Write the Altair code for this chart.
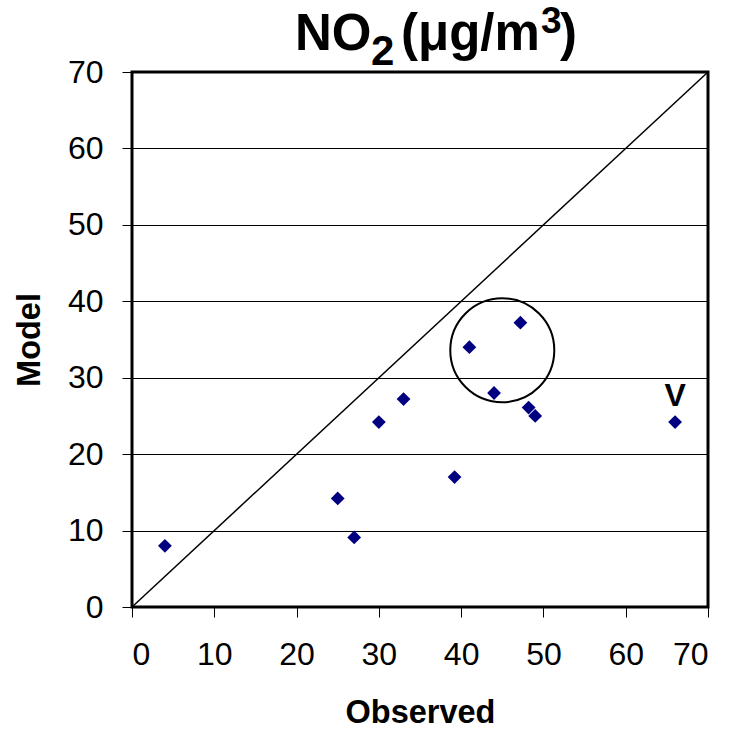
import altair as alt
import pandas as pd

observed = [4, 25, 27, 30, 33, 39.2, 41, 44, 47.2, 48.2, 49, 66]
model = [8, 14.2, 9.1, 24.2, 27.2, 17, 34, 28, 37.2, 26.1, 25, 24.2]
tick_values = [0, 10, 20, 30, 40, 50, 60, 70]
diag_start = [0, 0]
diag_end = [70, 70]
circle_center = [45, 33.6]
label_text = ["V"]
label_point = [66, 24.2]

# title pieces: text, font size, x offset, y offset (pixels relative to plot origin)
title_parts = ["NO", "2", "(μg/m", "3", ")"]
title_sizes = [51, 42, 51, 37, 51]
title_x = [163, 239, 269, 409, 428]
title_y = [-22, -7, -22, -39, -22]

df = pd.DataFrame({"Observed": observed, "Model": model})
diag_df = pd.DataFrame({"x": [diag_start[0]], "y": [diag_start[1]],
                        "x2": [diag_end[0]], "y2": [diag_end[1]]})
circ_df = pd.DataFrame({"x": [circle_center[0]], "y": [circle_center[1]]})
lab_df = pd.DataFrame({"x": [label_point[0]], "y": [label_point[1]], "t": label_text})

FONT = "Liberation Sans"
xscale = alt.Scale(domain=[0, 70], nice=False)
yscale = alt.Scale(domain=[0, 70], nice=False)

xaxis = alt.Axis(values=tick_values, title="Observed", grid=False,
                 labelPadding=22, titlePadding=26)
yaxis = alt.Axis(values=tick_values, title="Model", grid=True,
                 labelPadding=19, titlePadding=21)

points = alt.Chart(df).mark_point(shape="diamond", filled=True, color="#000080",
                                  size=190, opacity=1).encode(
    x=alt.X("Observed:Q", scale=xscale, axis=xaxis),
    y=alt.Y("Model:Q", scale=yscale, axis=yaxis),
)

diag = alt.Chart(diag_df).mark_rule(color="black", strokeWidth=1.5).encode(
    x=alt.X("x:Q", scale=xscale), y=alt.Y("y:Q", scale=yscale),
    x2="x2:Q", y2="y2:Q",
)

circle = alt.Chart(circ_df).mark_point(shape="circle", filled=False, color="black",
                                       strokeWidth=2, size=10816, opacity=1).encode(
    x=alt.X("x:Q", scale=xscale), y=alt.Y("y:Q", scale=yscale),
)

label = alt.Chart(lab_df).mark_text(font=FONT, fontSize=32, fontWeight="bold",
                                    color="black", baseline="alphabetic", dy=-16,
                                    align="center").encode(
    x=alt.X("x:Q", scale=xscale), y=alt.Y("y:Q", scale=yscale), text="t:N",
)

title_layers = []
for t, s, tx, ty in zip(title_parts, title_sizes, title_x, title_y):
    title_layers.append(
        alt.Chart(lab_df).mark_text(font=FONT, fontSize=s, fontWeight="bold",
                                    color="black", baseline="alphabetic",
                                    align="left", text=t).encode(
            x=alt.value(tx), y=alt.value(ty)
        )
    )

chart = alt.layer(diag, circle, points, label, *title_layers).properties(
    width=576, height=535,
    background="white",
    padding={"left": 132, "top": 72, "right": 21, "bottom": 122},
    autosize=alt.AutoSizeParams(type="none"),
).configure_view(stroke="black", strokeWidth=3).configure_axis(
    domain=False, tickColor="black", tickSize=10, tickWidth=1,
    labelFont=FONT, labelFontSize=32, labelColor="black",
    titleFont=FONT, titleColor="black", titleFontSize=32.5, titleFontWeight="bold",
    gridColor="black", gridWidth=1, gridOpacity=1,
)

chart.save("out.html", embed_options={"renderer": "svg", "actions": False})
